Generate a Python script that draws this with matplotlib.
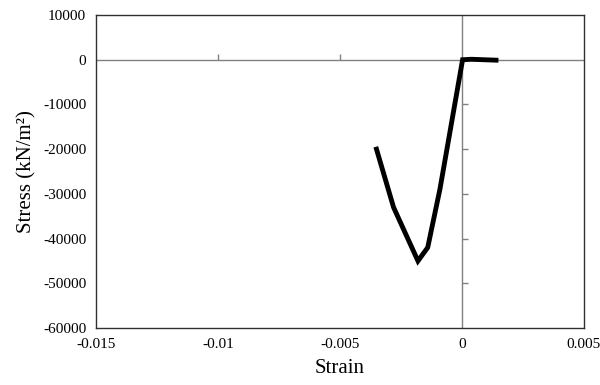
import numpy as np
import matplotlib
matplotlib.use('Agg')
import matplotlib.pyplot as plt

plt.rcParams['font.family'] = ['Liberation Serif', 'DejaVu Serif']
plt.rcParams['axes.unicode_minus'] = False

# stress-strain curve
strain = [-0.0035, -0.0028, -0.0018, -0.0014, -0.0009, 0.00003, 0.0004, 0.0014]
stress = [-20000, -33000, -45000, -42000, -29000, 0, 100, -100]

x_ticks = [-0.015, -0.01, -0.005, 0, 0.005]
x_labels = ['-0.015', '-0.01', '-0.005', '0', '0.005']
y_ticks = [10000, 0, -10000, -20000, -30000, -40000, -50000, -60000]

fig = plt.figure(figsize=(6, 3.85), dpi=100)
ax = fig.add_axes([0.16, 0.148, 0.813, 0.813])

# zero axes in grey, Excel style
ax.axhline(0, color='#808080', lw=1, zorder=1)
ax.axvline(0, color='#808080', lw=1, zorder=1)
ax.plot(x_ticks[1:3], [0, 0], ls='none', marker=2, ms=4, mew=1, color='#808080', zorder=1)
ax.plot([0] * 5, y_ticks[2:7], ls='none', marker=1, ms=4, mew=1, color='#808080', zorder=1)

ax.plot(strain, stress, color='black', lw=3.5, solid_joinstyle='miter', zorder=3)

ax.set_xlim(-0.015, 0.005)
ax.set_ylim(-60000, 10000)
ax.set_xticks(x_ticks)
ax.set_xticklabels(x_labels)
ax.set_yticks(y_ticks)
ax.tick_params(length=0, labelsize=11, pad=7)
for s in ax.spines.values():
    s.set_color('#303030')
    s.set_linewidth(1)

ax.set_xlabel('Strain', fontsize=15, labelpad=6)
ax.set_ylabel('Stress (kN/m²)', fontsize=15, labelpad=5)

fig.savefig('out.png', dpi=100)
